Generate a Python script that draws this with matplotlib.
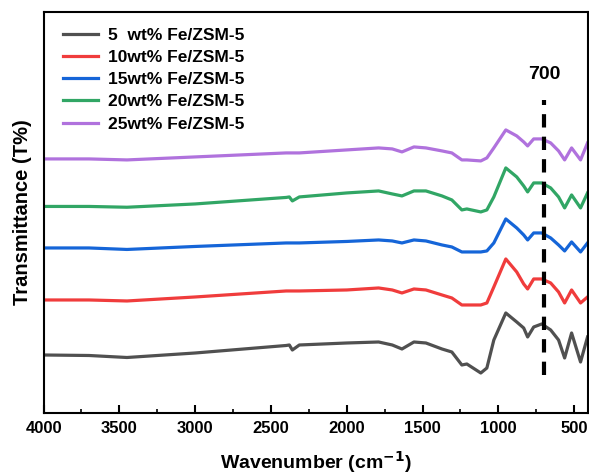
import numpy as np
import matplotlib.pyplot as plt
from matplotlib.ticker import MultipleLocator

plt.rcParams['font.family'] = ['Liberation Sans', 'DejaVu Sans']
plt.rcParams['font.weight'] = 'bold'

# wavenumbers (cm-1) where the spectra were read
wn = [4000, 3700, 3450, 3000, 2400, 2379, 2359, 2313, 2000, 1790, 1700, 1636,
      1557, 1478, 1372, 1307, 1241, 1208, 1116, 1076, 1030, 951, 879, 833,
      807, 767, 714, 655, 603, 563, 517, 458, 412]

# transmittance, arbitrary units (stacked spectra)
fe5 = [58, 57.5, 55.5, 60, 67.5, 68, 63, 68, 70, 71, 68, 64,
       71, 70, 64, 61, 48, 49, 40, 45, 73, 100, 91, 85,
       76, 86, 89, 83, 73, 55, 80, 51, 76]
fe10 = [113, 113, 112, 116, 122, 122, 122, 122, 123, 125, 123, 120,
        124, 123, 118, 115, 108, 108, 108, 110, 126, 154, 141, 129,
        124, 134, 134, 130, 121, 110, 123, 110, 116]
fe15 = [165, 165, 163.5, 166.5, 170, 170, 170, 170, 171.5, 173, 172, 170,
        173, 172, 168, 166, 161, 161, 161, 162, 170, 194, 185, 178,
        173, 180, 180, 175, 168, 162, 171, 161, 170]
fe20 = [206.5, 206.5, 205.7, 209, 215.5, 216, 212, 216, 220, 222, 219, 217,
        222, 222, 217, 213, 203, 204, 201, 203, 216, 245, 236, 227,
        221, 230, 230, 225, 216, 205, 218, 205, 220]
fe25 = [254, 254, 253, 256, 260, 260, 260, 260, 263, 265, 264, 261,
        266, 265, 262, 260, 253, 253, 252, 255, 265, 283, 277, 271,
        267, 274, 274, 270, 262, 253, 265, 253, 270]

labels = ['5  wt% Fe/ZSM-5', '10wt% Fe/ZSM-5', '15wt% Fe/ZSM-5',
          '20wt% Fe/ZSM-5', '25wt% Fe/ZSM-5']
colors = ['#505050', '#f03c3c', '#1565d8', '#31a665', '#b072dd']
series = [fe5, fe10, fe15, fe20, fe25]

fig = plt.figure(figsize=(5.89, 4.75), dpi=100)
ax = fig.add_axes([0.074, 0.1305, 0.924, 0.8445])

for y, c, lab in zip(series, colors, labels):
    ax.plot(wn, y, color=c, lw=2.3, label=lab, solid_joinstyle='round')

# marker line at 700 cm-1
ax.vlines(700, 38, 313, colors='k', linestyles=(0, (3.2, 2.2)), lw=3)
ax.text(700, 338, '700', ha='center', va='center', fontsize=14, fontweight='bold')

ax.set_xlim(4000, 410)
ax.set_ylim(0, 401)
ax.xaxis.set_major_locator(MultipleLocator(500))
ax.xaxis.set_minor_locator(MultipleLocator(250))
ax.set_yticks([])
ax.tick_params(axis='x', which='major', direction='in', length=6, width=1.5,
               labelsize=12, pad=6)
ax.tick_params(axis='x', which='minor', direction='in', length=3, width=1.2)
for lbl in ax.get_xticklabels():
    lbl.set_fontweight('bold')
for s in ax.spines.values():
    s.set_linewidth(1.5)

ax.set_xlabel('Wavenumber (cm$^{\\mathbf{-1}}$)', fontsize=14, fontweight='bold',
              labelpad=9)
ax.set_ylabel('Transmittance (T%)', fontsize=14.5, fontweight='bold', labelpad=8)

ax.legend(loc='upper left', frameon=False, handlelength=2.0,
          handletextpad=0.6, labelspacing=0.4, borderaxespad=0.3,
          bbox_to_anchor=(0.013, 0.99),
          prop={'weight': 'bold', 'size': 12.5})

fig.savefig('out.png', dpi=100)
